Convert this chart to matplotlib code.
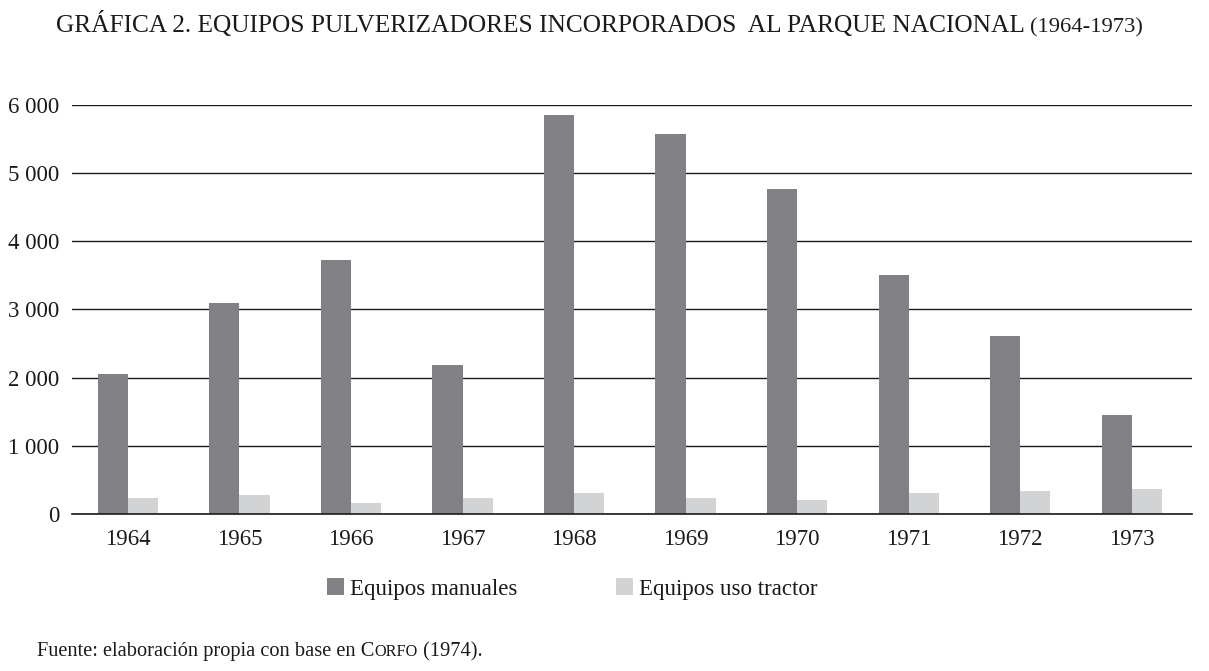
import matplotlib
matplotlib.use("Agg")
import matplotlib.pyplot as plt
import numpy as np

years = ["1964", "1965", "1966", "1967", "1968", "1969", "1970", "1971", "1972", "1973"]
manuales = [2050, 3100, 3720, 2180, 5850, 5580, 4770, 3500, 2610, 1450]
tractor = [235, 280, 160, 235, 310, 235, 205, 310, 340, 365]
yticks = [0, 1000, 2000, 3000, 4000, 5000, 6000]
ytick_labels = ["0", "1 000", "2 000", "3 000", "4 000", "5 000", "6 000"]

dark = "#818185"
light = "#d2d3d5"
serif = "Liberation Serif"

plt.rcParams["font.family"] = serif

fig = plt.figure(figsize=(12.09, 6.71), dpi=100)
ax = fig.add_axes([0.0596, 0.234, 0.9264, 0.6095])

x = np.arange(len(years))
w = 0.27
ax.bar(x - w / 2, manuales, w, color=dark, label="Equipos manuales", zorder=3)
ax.bar(x + w / 2, tractor, w, color=light, label="Equipos uso tractor", zorder=3)

ax.set_xlim(-0.5, 9.54)
ax.set_ylim(0, 6000)
ax.set_yticks(yticks)
ax.set_yticklabels(ytick_labels)
ax.set_xticks(x)
ax.set_xticklabels(years)
ax.tick_params(axis="both", length=0, labelsize=16.5, colors="#1a1a1a")
ax.tick_params(axis="x", pad=11)
ax.tick_params(axis="y", pad=9)
ax.grid(axis="y", color="#1a1a1a", linewidth=1.0, zorder=0)
for s in ["top", "right", "left"]:
    ax.spines[s].set_visible(False)
ax.spines["bottom"].set_color("#1a1a1a")
ax.spines["bottom"].set_linewidth(1.2)
ax.spines["bottom"].set_zorder(4)

leg = fig.legend(loc="center", bbox_to_anchor=(0.4735, 0.122), ncol=2, frameon=False,
                 fontsize=16.5, handlelength=0.74, handleheight=0.74,
                 handletextpad=0.26, columnspacing=4.3)
for t in leg.get_texts():
    t.set_color("#1a1a1a")


def run_text(parts, x0, y0, ha_center=False):
    # draw text pieces one after the other on a line (for small caps etc.)
    fig.canvas.draw()
    r = fig.canvas.get_renderer()
    objs = []
    xx = x0
    for s, size in parts:
        t = fig.text(xx, y0, s, fontsize=size, color="#1a1a1a", va="baseline")
        bb = t.get_window_extent(renderer=r)
        xx += bb.width / fig.bbox.width
        objs.append(t)
    if ha_center:
        total = xx - x0
        for t in objs:
            px, py = t.get_position()
            t.set_position((px - total / 2, py))
    return objs


run_text([("GRÁFICA 2. EQUIPOS PULVERIZADORES INCORPORADOS  AL PARQUE NACIONAL ", 18.3),
          ("(1964-1973)", 16.2)], 0.4959, 0.952, ha_center=True)

run_text([("Fuente: elaboración propia con base en C", 14.7), ("ORFO", 11.7),
          (" (1974).", 14.7)], 0.031, 0.022)

fig.savefig("out.png", dpi=100)
